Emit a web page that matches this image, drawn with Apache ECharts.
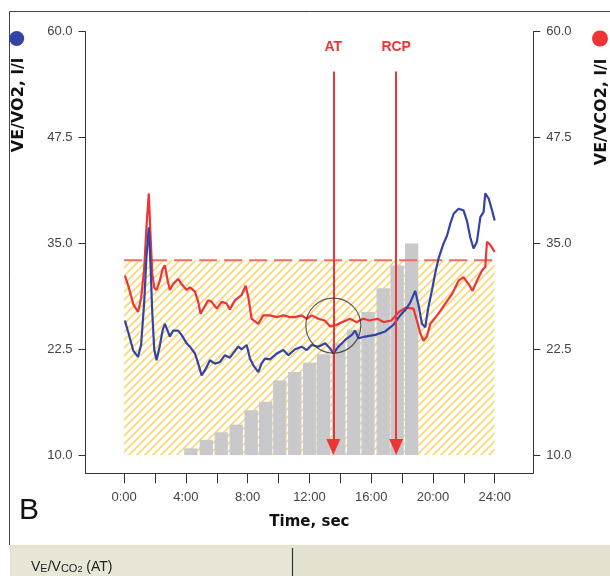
<!DOCTYPE html>
<html>
<head>
<meta charset="utf-8">
<script src="https://cdn.jsdelivr.net/npm/echarts@6/dist/echarts.min.js"></script>
<style>
html,body{margin:0;padding:0;background:#fff;}
#chart{width:610px;height:576px;}
</style>
</head>
<body>
<div id="chart"></div>
<script>
// ---- data (minutes, l/l) ----
const blueTimes = [0.05,0.3,0.6,0.9,1.1,1.3,1.45,1.6,1.7,1.82,1.95,2.1,2.3,2.5,2.64,2.86,2.96,3.18,3.5,3.72,4.05,4.26,4.59,4.8,5.02,5.23,5.56,5.88,6.21,6.53,6.85,7.18,7.39,7.61,7.94,8.15,8.37,8.69,8.9,9.12,9.45,9.88,10.31,10.64,11.07,11.5,11.83,12.15,12.58,13.02,13.34,13.55,13.88,14.31,14.75,14.96,15.18,15.61,16.26,16.91,17.45,17.88,18.2,18.53,18.85,19.07,19.29,19.5,19.71,19.94,20.15,20.36,20.69,20.91,21.12,21.34,21.66,21.98,22.2,22.42,22.63,22.85,23.07,23.28,23.39,23.61,23.83,24.0];
const veVo2 = [25.9,24.3,22.3,21.6,23.0,28.0,33.5,36.9,33.0,27.0,22.5,21.2,22.8,24.8,25.5,24.5,24.0,24.7,24.7,24.2,23.2,22.8,22.0,20.8,19.4,20.0,21.2,20.8,21.0,21.8,21.5,22.3,22.8,22.5,23.0,21.4,20.6,19.8,20.8,21.4,21.3,22.0,22.4,21.8,22.5,22.8,22.4,23.0,22.8,23.2,22.6,22.0,22.8,23.6,24.2,24.7,23.8,24.0,24.2,24.6,25.4,26.5,27.1,28.0,29.4,27.7,25.5,25.1,27.5,29.5,31.5,33.2,35.0,35.9,37.3,38.5,39.1,38.9,37.7,35.7,34.4,35.2,38.1,38.7,40.9,40.3,38.9,37.7];
const redTimes = [0.05,0.3,0.6,0.9,1.1,1.3,1.45,1.6,1.7,1.82,1.95,2.1,2.3,2.5,2.64,2.8,2.96,3.18,3.5,3.72,4.05,4.26,4.59,4.8,4.95,5.23,5.45,5.67,6.0,6.32,6.64,6.85,7.18,7.61,7.87,8.04,8.26,8.69,9.01,9.45,9.88,10.31,10.75,11.06,11.5,11.83,12.15,12.58,13.0,13.34,13.66,14.1,14.63,15.05,15.48,15.9,16.4,16.83,17.3,17.8,18.25,18.74,18.96,19.18,19.39,19.61,19.83,20.36,20.8,21.23,21.66,21.98,22.31,22.57,22.85,23.18,23.39,23.5,23.72,24.0];
const veVco2 = [31.2,29.8,27.8,26.9,28.5,32.0,37.0,40.9,36.5,31.5,29.8,29.5,30.5,32.0,32.4,30.8,29.5,30.2,30.8,30.2,29.5,29.8,29.3,28.1,26.7,27.6,28.3,28.1,27.3,28.1,27.9,27.2,28.3,28.9,30.0,28.7,26.1,25.5,26.5,26.5,26.3,26.5,26.3,26.3,26.5,26.1,26.5,26.1,25.9,25.2,25.3,25.7,26.1,25.7,26.1,25.9,26.1,25.7,25.9,26.9,27.4,27.3,25.9,24.4,23.5,24.0,25.5,26.7,27.9,29.0,30.6,31.0,30.2,29.4,30.6,31.8,32.2,35.2,34.8,34.0];
const barTimes = [4.32,5.32,6.29,7.26,8.23,9.17,10.08,11.05,12.02,12.92,13.9,14.87,15.8,16.78,17.68,18.62];
const barValues = [10.8,11.8,12.7,13.6,15.3,16.3,18.8,19.8,20.9,21.9,23.2,24.8,26.9,29.7,32.4,35.0];
const xTickValues = [0,2,4,6,8,10,12,14,16,18,20,22,24];
const xLabelValues = [0,4,8,12,16,20,24];
const yTickValues = [10,22.5,35,47.5,60];
const thresholdValue = 33;
const floorValue = 10;
const hatchStart = 0, hatchEnd = 24;
const atTime = 13.55, rcpTime = 17.62;
const markerTop = 55.3;
const circleCenter = [13.55, 25.3];

function makeHatch(){
  const s = 8;
  const c = document.createElement('canvas');
  c.width = s; c.height = s;
  const g = c.getContext('2d');
  g.strokeStyle = '#F8D774';
  g.lineWidth = 1.6;
  g.beginPath();
  g.moveTo(-1, s+1); g.lineTo(s+1, -1);
  g.moveTo(-1, 1); g.lineTo(1, -1);
  g.moveTo(s-1, s+1); g.lineTo(s+1, s-1);
  g.stroke();
  return c;
}

const FONT = '"Liberation Sans", Arial, sans-serif';
const BOLDFONT = '"DejaVu Sans", Verdana, sans-serif';
const chart = echarts.init(document.getElementById('chart'), null, {renderer:'canvas'});

// arrow head is centred on its end point: lift it by half its height (8px ≈ 0.95 units)
const arrowLift = 0.95;

function yAxisCfg(pos){
  return {
    type:'value', min:7.85, max:60, position:pos,
    axisLine:{show:true, onZero:false, lineStyle:{color:'#333', width:1}},
    axisTick:{show:true, length:7, customValues:yTickValues, lineStyle:{color:'#333'}},
    axisLabel:{customValues:yTickValues, formatter:v=>v.toFixed(1), color:'#444', fontSize:13, fontFamily:FONT, margin:13},
    splitLine:{show:false}
  };
}

const option = {
  animation:false,
  backgroundColor:'#fff',
  grid:{left:85.5, right:76.7, top:31.7, bottom:102.7, containLabel:false},
  xAxis:{
    type:'value', min:-2.5, max:26.5,
    axisLine:{show:true, onZero:false, lineStyle:{color:'#333', width:1}},
    axisTick:{show:true, length:10, customValues:xTickValues, lineStyle:{color:'#333'}},
    axisLabel:{customValues:xLabelValues, formatter:v=>v+':00', color:'#444', fontSize:13, fontFamily:FONT, margin:18},
    splitLine:{show:false},
    name:'Time, sec', nameLocation:'middle', nameGap:41,
    nameTextStyle:{fontFamily:BOLDFONT, fontWeight:'bold', fontSize:15, color:'#111'}
  },
  yAxis:[yAxisCfg('left'), yAxisCfg('right')],
  series:[
    {
      type:'line', name:'threshold', z:3, silent:true, symbol:'none',
      data:[[hatchStart, thresholdValue],[hatchEnd, thresholdValue]],
      lineStyle:{color:'#F26A6A', width:2, type:[18,7]},
      markArea:{silent:true, z:1,
        itemStyle:{color:{image:makeHatch(), repeat:'repeat'}},
        data:[[{coord:[hatchStart, floorValue]},{coord:[hatchEnd, thresholdValue]}]]
      }
    },
    {
      type:'custom', name:'load', z:2, silent:true,
      data:barTimes.map((t,i)=>[t, barValues[i]]),
      renderItem:function(params, api){
        const t = api.value(0), v = api.value(1);
        const half = 0.43;
        const p1 = api.coord([t-half, v]);
        const p2 = api.coord([t+half, floorValue]);
        return {type:'rect', shape:{x:p1[0], y:p1[1], width:p2[0]-p1[0], height:p2[1]-p1[1]}, style:{fill:'#C9C9CB'}};
      }
    },
    {
      type:'line', name:'VE/VCO2', yAxisIndex:1, z:4, symbol:'none',
      data:redTimes.map((t,i)=>[t, veVco2[i]]),
      lineStyle:{color:'#EE3434', width:2.2}
    },
    {
      type:'line', name:'VE/VO2', yAxisIndex:0, z:4, symbol:'none',
      data:blueTimes.map((t,i)=>[t, veVo2[i]]),
      lineStyle:{color:'#3344A6', width:2.2},
      markLine:{
        silent:true, z:5, symbol:['none','triangle'], symbolSize:[14,16],
        lineStyle:{color:'#EE3434', width:2, type:'solid'},
        label:{show:true, position:'start', formatter:'{b}', color:'#EE3434', fontWeight:'bold', fontSize:14, fontFamily:FONT, distance:17},
        data:[
          [{coord:[atTime, markerTop], name:'AT'},{coord:[atTime, floorValue + arrowLift]}],
          [{coord:[rcpTime, markerTop], name:'RCP'},{coord:[rcpTime, floorValue + arrowLift]}]
        ]
      }
    },
    {
      type:'scatter', name:'circle', z:6, silent:true,
      data:[circleCenter], symbol:'circle', symbolSize:55,
      itemStyle:{color:'rgba(0,0,0,0)', borderColor:'#333', borderWidth:1.2}
    }
  ],
  graphic:[
    {type:'line', shape:{x1:9.5, y1:11.5, x2:610, y2:11.5}, style:{stroke:'#444', lineWidth:1}, silent:true},
    {type:'line', shape:{x1:9.5, y1:11.5, x2:9.5, y2:545}, style:{stroke:'#444', lineWidth:1}, silent:true},
    {type:'circle', shape:{cx:16.7, cy:38.5, r:7.5}, style:{fill:'#3344A6'}, silent:true},
    {type:'circle', shape:{cx:600, cy:38.5, r:8}, style:{fill:'#EE3434'}, silent:true},
    {type:'text', x:19, y:105, rotation:Math.PI/2, silent:true,
      style:{text:'VE/VO2, l/l', fill:'#111', font:'bold 16px "DejaVu Sans", Verdana, sans-serif', textAlign:'center', textVerticalAlign:'middle'}},
    {type:'text', x:602, y:112, rotation:Math.PI/2, silent:true,
      style:{text:'VE/VCO2, l/l', fill:'#111', font:'bold 16px "DejaVu Sans", Verdana, sans-serif', textAlign:'center', textVerticalAlign:'middle'}},
    {type:'text', x:19, y:511, silent:true,
      style:{text:'B', fill:'#111', font:'30px "Liberation Sans", Arial, sans-serif', textAlign:'left', textVerticalAlign:'middle'}},
    {type:'rect', shape:{x:10, y:545, width:600, height:31}, style:{fill:'#E6E2D1'}, silent:true},
    {type:'rect', shape:{x:12, y:548, width:280, height:28}, style:{fill:'#E9E6D7'}, silent:true},
    {type:'line', shape:{x1:292.5, y1:548, x2:292.5, y2:576}, style:{stroke:'#333', lineWidth:1.2}, silent:true},
    {type:'text', x:31, y:566, silent:true,
      style:{
        text:'{a|V}{s|E}{a|/V}{s|CO}{u|2}{a| (AT)}',
        textVerticalAlign:'middle',
        rich:{
          a:{fontSize:14, fontFamily:FONT, fill:'#222', color:'#222', verticalAlign:'bottom', lineHeight:16},
          s:{fontSize:11, fontFamily:FONT, fill:'#222', color:'#222', verticalAlign:'bottom', lineHeight:16},
          u:{fontSize:9, fontFamily:FONT, fill:'#222', color:'#222', verticalAlign:'bottom', lineHeight:12}
        }
      }}
  ]
};
chart.setOption(option);
</script>
</body>
</html>
